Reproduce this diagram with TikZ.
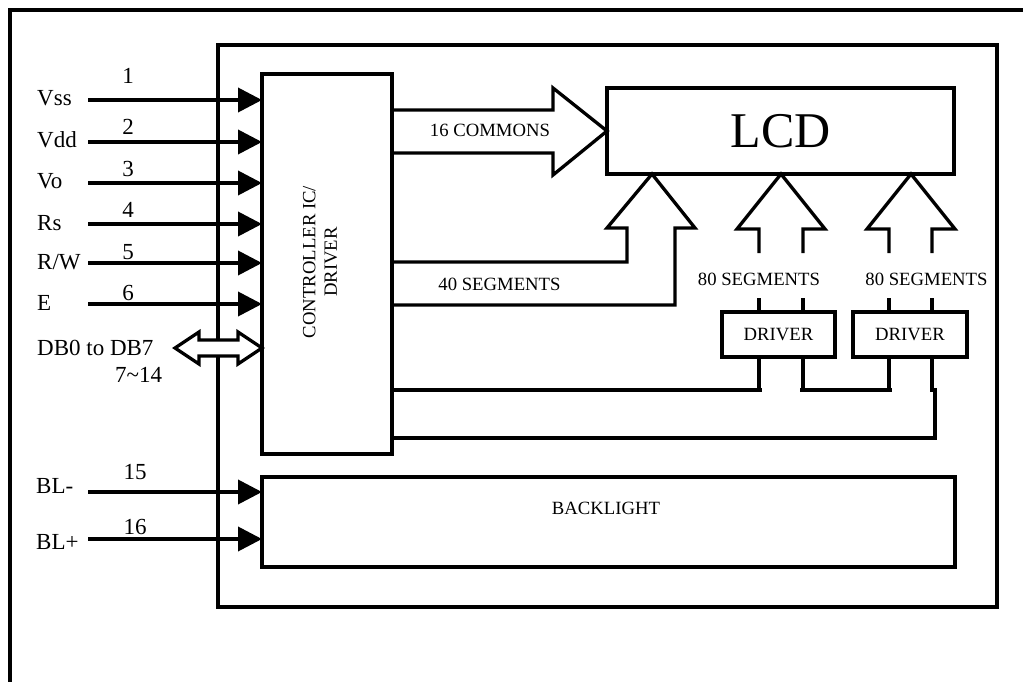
\documentclass[tikz,border=0pt]{standalone}
\usepackage{fontspec}
\setmainfont{Liberation Serif}
\usetikzlibrary{arrows.meta}
\begin{document}
\begin{tikzpicture}[x=1pt,y=-1pt,
  box/.style={draw, line width=3.3pt, inner sep=0pt, outer sep=0pt, rectangle},
  lbl/.style={font=\fontsize{23}{27}\selectfont, inner sep=0pt},
  sm/.style={font=\fontsize{18.7}{21.5}\selectfont, inner sep=0pt},
  pin/.style={line width=3.8pt, -{Triangle[length=24pt,width=24pt]}},
  wire/.style={line width=3.3pt},
  blk/.style={line width=3.3pt, line join=miter}]
\clip (0,0) rectangle (1023,682);
% outer frame (cropped)
\draw[line width=4pt] (10,700) -- (10,10) -- (1040,10);
% module outline
\node[box, minimum width=779pt, minimum height=562pt] (module) at (607.5,326) {};
% controller
\node[box, minimum width=130pt, minimum height=380pt] (ctrl) at (327,264) {};
\node[sm, rotate=90, align=center] (ctrltxt) at (320,262) {CONTROLLER IC/\\DRIVER};
% LCD
\node[box, minimum width=347pt, minimum height=86pt, font=\fontsize{50}{55}\selectfont] (lcd) at (780.5,131) {LCD};
% drivers
\node[box, sm, minimum width=113pt, minimum height=45pt] (drv1) at (778.5,334.5) {DRIVER};
\node[box, sm, minimum width=114pt, minimum height=45pt] (drv2) at (910,334.5) {DRIVER};
% backlight
\node[box, minimum width=693pt, minimum height=90pt] (bl) at (608.5,522) {};
\node[sm] (bltxt) at (606,508) {BACKLIGHT};

% helper coordinates
\coordinate (y110) at (0,110);
\coordinate (y153) at (0,153);
\coordinate (y262) at (0,262);
\coordinate (y305) at (0,305);
\coordinate (y390) at (0,390);
\coordinate (y438) at (0,438);

% pins
\coordinate (pvss) at (88,100);
\coordinate (pvdd) at (88,142);
\coordinate (pvo) at (88,183);
\coordinate (prs) at (88,224);
\coordinate (prw) at (88,263);
\coordinate (pe) at (88,304);
\coordinate (pblm) at (88,492);
\coordinate (pblp) at (88,539);
\draw[pin] (pvss) -- (ctrl.west |- pvss);
\draw[pin] (pvdd) -- (ctrl.west |- pvdd);
\draw[pin] (pvo) -- (ctrl.west |- pvo);
\draw[pin] (prs) -- (ctrl.west |- prs);
\draw[pin] (prw) -- (ctrl.west |- prw);
\draw[pin] (pe) -- (ctrl.west |- pe);
\draw[pin] (pblm) -- (bl.west |- pblm);
\draw[pin] (pblp) -- (bl.west |- pblp);

\node[lbl, anchor=base west] (lvss) at (37,106) {Vss};
\node[lbl, anchor=base west] (lvdd) at (37,148) {Vdd};
\node[lbl, anchor=base west] (lvo) at (37,189) {Vo};
\node[lbl, anchor=base west] (lrs) at (37,230) {Rs};
\node[lbl, anchor=base west] (lrw) at (37,269) {R/W};
\node[lbl, anchor=base west] (le) at (37,310) {E};
\node[lbl, anchor=base west] (ldb) at (37,355) {DB0 to DB7};
\node[lbl, anchor=base west] (ldbn) at (115,382) {7\textasciitilde14};
\node[lbl, anchor=base west] (lblm) at (36,493) {BL-};
\node[lbl, anchor=base west] (lblp) at (36,549) {BL+};

\node[lbl] (n1) at (128,76) {1};
\node[lbl] (n2) at (128,127) {2};
\node[lbl] (n3) at (128,169) {3};
\node[lbl] (n4) at (128,210) {4};
\node[lbl] (n5) at (128,252) {5};
\node[lbl] (n6) at (128,293) {6};
\node[lbl] (n15) at (135,472) {15};
\node[lbl] (n16) at (135,527) {16};

% data bus double arrow
\draw[blk, fill=white] (175,348) -- (199,332) -- (199,340) -- (238,340) -- (238,332)
  -- (ctrl.west |- 0,348) -- (238,364) -- (238,356) -- (199,356) -- (199,364) -- cycle;

% 16 commons
\draw[blk] (ctrl.east |- y110) -- (553,110) -- (553,88) -- (lcd.west) -- (553,175) -- (553,153) -- (ctrl.east |- y153);
\node[sm, anchor=base] (tcom) at (490,137) {16 COMMONS};

% 40 segments
\draw[blk] (ctrl.east |- y262) -- (627,262) -- (627,228) -- (607,228) -- (652,174)
  -- (695,228) -- (675,228) -- (675,305) -- (ctrl.east |- y305);
\node[sm, anchor=base] (tseg40) at (499.5,290) {40 SEGMENTS};

% 80 segments (1)
\draw[blk] (759,253) -- (759,229) -- (737,229) -- (781,174) -- (825,229) -- (803,229) -- (803,253);
\draw[wire] (759,298) -- (759,312);
\draw[wire] (803,298) -- (803,312);
\node[sm, anchor=base] (tseg80a) at (759,285) {80 SEGMENTS};
% 80 segments (2)
\draw[blk] (889,253) -- (889,229) -- (867,229) -- (911,174) -- (955,229) -- (932,229) -- (932,253);
\draw[wire] (889,298) -- (889,312);
\draw[wire] (932,298) -- (932,312);
\node[sm, anchor=base] (tseg80b) at (926.5,285) {80 SEGMENTS};

% driver control lines
\draw[wire] (ctrl.east |- y390) -- (762,390);
\draw[wire] (759,357) -- (759,391.5);
\draw[wire] (800,390) -- (892,390);
\draw[wire] (803,357) -- (803,391.5);
\draw[wire] (889,357) -- (889,391.5);
\draw[wire] (932,357) -- (932,390) -- (935,390) -- (935,438) -- (ctrl.east |- y438);
\end{tikzpicture}
\end{document}
